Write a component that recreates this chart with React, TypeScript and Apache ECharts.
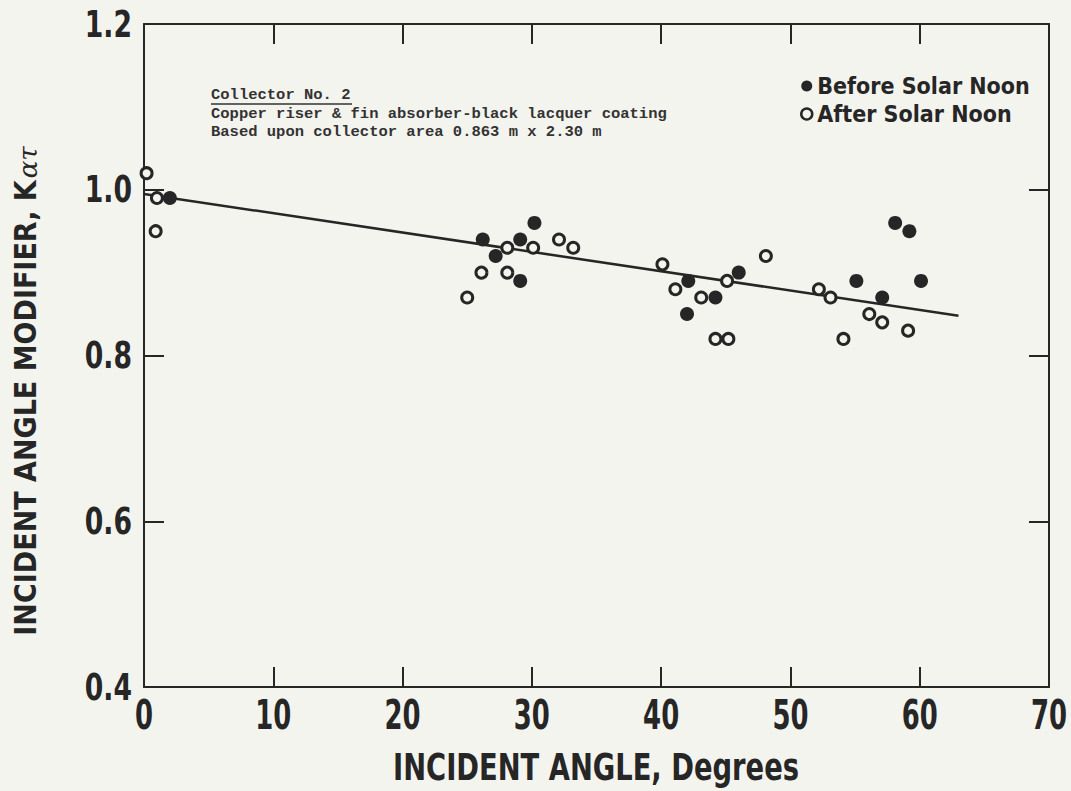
import React, { useEffect, useRef } from "react";
import * as echarts from "echarts";

// ---- data ----
const seriesNames = ["Before Solar Noon", "After Solar Noon"];

// [incident angle (deg), K_alpha_tau]
const beforeNoon: [number, number][] = [
  [2.0, 0.99],
  [26.2, 0.94],
  [27.2, 0.92],
  [29.1, 0.94],
  [29.1, 0.89],
  [30.2, 0.96],
  [42.0, 0.85],
  [42.1, 0.89],
  [44.2, 0.87],
  [46.0, 0.9],
  [55.1, 0.89],
  [57.1, 0.87],
  [58.1, 0.96],
  [59.2, 0.95],
  [60.1, 0.89],
];

const afterNoon: [number, number][] = [
  [0.2, 1.02],
  [1.0, 0.99],
  [0.9, 0.95],
  [25.0, 0.87],
  [26.1, 0.9],
  [28.1, 0.9],
  [28.1, 0.93],
  [30.1, 0.93],
  [32.1, 0.94],
  [33.2, 0.93],
  [40.1, 0.91],
  [41.1, 0.88],
  [43.1, 0.87],
  [44.2, 0.82],
  [45.1, 0.89],
  [45.2, 0.82],
  [48.1, 0.92],
  [52.2, 0.88],
  [53.1, 0.87],
  [54.1, 0.82],
  [56.1, 0.85],
  [57.1, 0.84],
  [59.1, 0.83],
];

const fitLine: [number, number][] = [
  [0, 0.995],
  [63, 0.848],
];

const xTickValues = [0, 10, 20, 30, 40, 50, 60, 70];
const yTickValues = [0.4, 0.6, 0.8, 1.0, 1.2];
const xRange = { min: 0, max: 70, interval: 10 };
const yRange = { min: 0.4, max: 1.2, interval: 0.2 };

const xTitle = "INCIDENT ANGLE, Degrees";
const yTitle = "INCIDENT ANGLE MODIFIER, K";
const ySub = "ατ";

const annotationLines = [
  "Collector No. 2",
  "Copper riser & fin absorber-black lacquer coating",
  "Based upon collector area 0.863 m x 2.30 m",
];

// ---- styles ----
const BG = "#f4f4ef";
const INK = "#262626";
const COND = '"DejaVu Sans Condensed", "Liberation Sans Narrow", sans-serif';
const MONO = '"Liberation Mono", "DejaVu Sans Mono", monospace';

export default function App() {
  const ref = useRef<HTMLDivElement>(null);

  useEffect(() => {
    if (!ref.current) return;
    const chart = echarts.init(ref.current, null, { renderer: "svg" });

    const axisCommon = {
      type: "value" as const,
      splitLine: { show: false },
      axisLabel: { show: false },
      axisLine: { show: true, onZero: false, lineStyle: { color: INK, width: 2 } },
      axisTick: { show: true, inside: true, length: 20, lineStyle: { color: INK, width: 2 } },
    };

    const option: any = {
      animation: false,
      backgroundColor: BG,
      grid: { left: 144, right: 22, top: 24, bottom: 104, containLabel: false },
      xAxis: [
        { ...axisCommon, ...xRange, position: "bottom" },
        { ...axisCommon, ...xRange, position: "top" },
      ],
      yAxis: [
        { ...axisCommon, ...yRange, position: "left" },
        { ...axisCommon, ...yRange, position: "right" },
      ],
      legend: {
        orient: "vertical",
        left: 795,
        top: 68,
        itemWidth: 11,
        itemHeight: 11,
        itemGap: 2,
        selectedMode: false,
        textStyle: {
          fontSize: 23,
          lineHeight: 26,
          fontWeight: "bold",
          fontFamily: COND,
          color: INK,
        },
        data: [
          { name: seriesNames[0], icon: "circle", itemStyle: { color: INK, borderWidth: 0 } },
          {
            name: seriesNames[1],
            icon: "circle",
            itemStyle: { color: BG, borderColor: INK, borderWidth: 2.5 },
          },
        ],
      },
      graphic: [
        ...annotationLines.map((t, i) => ({
          type: "text",
          x: 211,
          y: 95 + i * 18.5,
          silent: true,
          style: {
            text: t,
            fontSize: 15.5,
            fontFamily: MONO,
            fontWeight: "bold",
            fill: "#333",
            textAlign: "left",
            textVerticalAlign: "middle",
          },
        })),
        {
          type: "line",
          silent: true,
          shape: { x1: 211, y1: 104, x2: 352, y2: 104 },
          style: { stroke: "#333", lineWidth: 1.5 },
        },
        {
          type: "text",
          x: 596,
          y: 767,
          scaleX: 0.8,
          silent: true,
          style: {
            text: xTitle,
            fontSize: 38,
            fontWeight: "bold",
            fontFamily: COND,
            fill: INK,
            textAlign: "center",
            textVerticalAlign: "middle",
          },
        },
        {
          type: "text",
          x: 25,
          y: 391,
          rotation: Math.PI / 2,
          silent: true,
          style: {
            text: yTitle + "{sub|" + ySub + "}",
            fontSize: 30,
            fontWeight: "bold",
            fontFamily: COND,
            fill: INK,
            textAlign: "center",
            textVerticalAlign: "middle",
            rich: {
              sub: {
                fontSize: 26,
                fontStyle: "italic",
                fontFamily: '"DejaVu Serif", serif',
                fill: INK,
                padding: [6, 0, 0, 2],
              },
            },
          },
        },
      ],
      series: [
        {
          type: "line",
          name: "fit",
          data: fitLine,
          symbol: "none",
          silent: true,
          lineStyle: { color: INK, width: 2.5 },
          z: 1,
        },
        {
          type: "scatter",
          name: seriesNames[0],
          data: beforeNoon,
          symbol: "circle",
          symbolSize: 14,
          itemStyle: { color: INK, opacity: 1 },
          z: 2,
        },
        {
          type: "scatter",
          name: seriesNames[1],
          data: afterNoon,
          symbol: "circle",
          symbolSize: 11,
          itemStyle: { color: BG, borderColor: INK, borderWidth: 3, opacity: 1 },
          z: 3,
        },
        // x tick labels, placed through the axis scale (condensed look)
        {
          type: "custom",
          name: "xTickLabels",
          silent: true,
          clip: false,
          data: xTickValues.map((v) => [v, yRange.min]),
          renderItem: (params: any, api: any) => {
            const v = api.value(0);
            const p = api.coord([v, api.value(1)]);
            return {
              type: "text",
              x: p[0],
              y: p[1] + 8,
              scaleX: 0.72,
              style: {
                text: String(v),
                fontSize: 40,
                fontWeight: "bold",
                fontFamily: COND,
                fill: INK,
                textAlign: "center",
                textVerticalAlign: "top",
              },
            };
          },
          z: 5,
        },
        // y tick labels
        {
          type: "custom",
          name: "yTickLabels",
          silent: true,
          clip: false,
          data: yTickValues.map((v) => [xRange.min, v]),
          renderItem: (params: any, api: any) => {
            const v = api.value(1);
            const p = api.coord([api.value(0), v]);
            return {
              type: "text",
              x: p[0] - 12,
              y: p[1],
              scaleX: 0.8,
              style: {
                text: Number(v).toFixed(1),
                fontSize: 37,
                fontWeight: "bold",
                fontFamily: COND,
                fill: INK,
                textAlign: "right",
                textVerticalAlign: "middle",
              },
            };
          },
          z: 5,
        },
      ],
    };

    chart.setOption(option);
    return () => chart.dispose();
  }, []);

  return (
    <div
      ref={ref}
      style={{ position: "fixed", left: 0, top: 0, width: 1071, height: 791, background: BG }}
    />
  );
}
